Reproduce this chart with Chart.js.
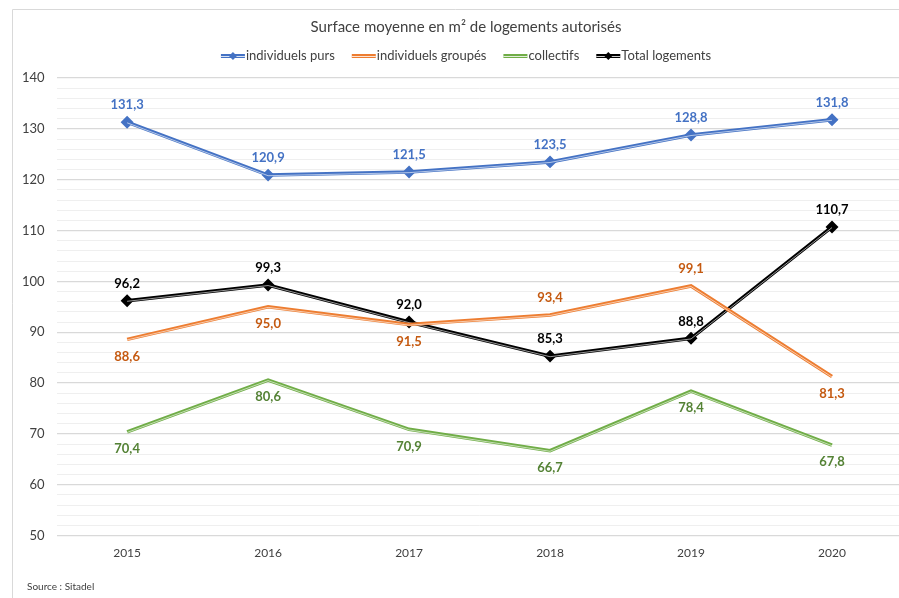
<!DOCTYPE html>
<html>
<head>
<meta charset="utf-8">
<script src="https://cdn.jsdelivr.net/npm/chart.js@4"></script>
<style>
  html, body { margin: 0; padding: 0; background: #fff; overflow: hidden; }
  #wrap { position: relative; width: 910px; height: 598px; }
</style>
</head>
<body>
<div id="wrap"><canvas id="surfaceChart"></canvas></div>
<script>
const years = ['2015', '2016', '2017', '2018', '2019', '2020'];
const individuelsPurs = [131.3, 120.9, 121.5, 123.5, 128.8, 131.8];
const individuelsGroupes = [88.6, 95.0, 91.5, 93.4, 99.1, 81.3];
const collectifs = [70.4, 80.6, 70.9, 66.7, 78.4, 67.8];
const totalLogements = [96.2, 99.3, 92.0, 85.3, 88.8, 110.7];

// label placement per point: 1 above, -1 below
const posPurs = [1, 1, 1, 1, 1, 1];
const posGroupes = [-1, -1, -1, 1, 1, -1];
const posCollectifs = [-1, -1, -1, -1, -1, -1];
const posTotal = [1, 1, 1, 1, 1, 1];

const FONT = 'Lato, "Noto Sans", sans-serif';
const TITLE = 'Surface moyenne en m² de logements autorisés';
const CENTER_X = 466; // title / legend centre in the visible 899px window
const VIEW_W = 899;

function series(label, data, color, labelColor, pos, marker) {
  return {
    label: label,
    data: data,
    borderColor: color,
    backgroundColor: color,
    borderWidth: 3.5,
    pointStyle: 'rectRot',
    pointRadius: marker ? 4 : 0,
    pointHoverRadius: marker ? 4 : 0,
    tension: 0,
    labelColor: labelColor,
    labelPos: pos,
    marker: marker
  };
}

// thin light stripe inside the thick line (Excel "double" line look)
const doubleLine = {
  id: 'doubleLine',
  afterDatasetDraw(chart, args) {
    const meta = args.meta;
    const ctx = chart.ctx;
    ctx.save();
    ctx.strokeStyle = 'rgba(255,255,255,0.75)';
    ctx.lineWidth = 0.8;
    ctx.beginPath();
    meta.data.forEach((p, i) => {
      if (i === 0) ctx.moveTo(p.x, p.y + 0.6);
      else ctx.lineTo(p.x, p.y + 0.6);
    });
    ctx.stroke();
    ctx.restore();
  }
};

const valueLabels = {
  id: 'valueLabels',
  afterDatasetsDraw(chart) {
    const ctx = chart.ctx;
    ctx.save();
    ctx.font = 'bold 13px ' + FONT;
    ctx.textAlign = 'center';
    ctx.textBaseline = 'middle';
    chart.data.datasets.forEach((ds, di) => {
      const meta = chart.getDatasetMeta(di);
      meta.data.forEach((p, i) => {
        const txt = ds.data[i].toFixed(1).replace('.', ',');
        ctx.fillStyle = ds.labelColor;
        ctx.fillText(txt, p.x, p.y - 17 * ds.labelPos[i]);
      });
    });
    ctx.restore();
  }
};

// frame, title, legend and source note
const decorations = {
  id: 'decorations',
  afterDraw(chart) {
    const ctx = chart.ctx;
    ctx.save();
    ctx.strokeStyle = '#d9d9d9';
    ctx.lineWidth = 1;
    ctx.beginPath();
    ctx.moveTo(12.5, chart.height);
    ctx.lineTo(12.5, 9.5);
    ctx.lineTo(VIEW_W, 9.5);
    ctx.stroke();

    ctx.fillStyle = '#404040';
    ctx.textBaseline = 'middle';
    ctx.textAlign = 'center';
    ctx.font = '15px ' + FONT;
    ctx.fillText(TITLE, CENTER_X, 27);

    // legend
    ctx.font = '13px ' + FONT;
    ctx.textAlign = 'left';
    const sw = 24, gap = 17, ly = 56;
    const dss = chart.data.datasets;
    const widths = dss.map(d => sw + 1 + ctx.measureText(d.label).width);
    const total = widths.reduce((a, b) => a + b, 0) + gap * (dss.length - 1);
    let x = CENTER_X - total / 2;
    dss.forEach((d, i) => {
      ctx.strokeStyle = d.borderColor;
      ctx.lineWidth = 4;
      ctx.beginPath(); ctx.moveTo(x, ly); ctx.lineTo(x + sw, ly); ctx.stroke();
      ctx.strokeStyle = 'rgba(255,255,255,0.8)';
      ctx.lineWidth = 1;
      ctx.beginPath(); ctx.moveTo(x, ly + 0.5); ctx.lineTo(x + sw, ly + 0.5); ctx.stroke();
      if (d.marker) {
        const cx = x + sw / 2;
        ctx.fillStyle = d.borderColor;
        ctx.beginPath();
        ctx.moveTo(cx, ly - 4); ctx.lineTo(cx + 4, ly); ctx.lineTo(cx, ly + 4); ctx.lineTo(cx - 4, ly);
        ctx.closePath(); ctx.fill();
      }
      ctx.fillStyle = '#404040';
      ctx.fillText(d.label, x + sw + 1, ly);
      x += widths[i] + gap;
    });

    ctx.font = '10px ' + FONT;
    ctx.fillText('Source : Sitadel', 27, 587);
    ctx.restore();
  }
};

const canvas = document.getElementById('surfaceChart');
new Chart(canvas.getContext('2d'), {
  type: 'line',
  data: {
    labels: years,
    datasets: [
      series('individuels purs', individuelsPurs, '#4472c4', '#4472c4', posPurs, true),
      series('individuels groupés', individuelsGroupes, '#ed7d31', '#c55a11', posGroupes, false),
      series('collectifs', collectifs, '#70ad47', '#548235', posCollectifs, false),
      series('Total logements', totalLogements, '#000000', '#000000', posTotal, true)
    ]
  },
  options: {
    responsive: true,
    maintainAspectRatio: false,
    animation: false,
    layout: { padding: { top: 78, left: 10, right: 0, bottom: 28 } },
    plugins: {
      title: { display: false },
      legend: { display: false },
      tooltip: { enabled: false }
    },
    scales: {
      x: {
        offset: true,
        grid: { display: false, drawTicks: false },
        border: { display: false },
        ticks: { color: '#404040', font: { family: FONT, size: 12 }, padding: 10 }
      },
      y: {
        min: 50,
        max: 140,
        border: { display: false },
        grid: {
          drawTicks: false,
          color: c => (c.tick && c.tick.value % 10 === 0) ? '#d9d9d9' : '#efefef',
          lineWidth: c => (c.tick && c.tick.value % 10 === 0) ? 1.2 : 1
        },
        ticks: {
          stepSize: 2,
          autoSkip: false,
          padding: 12,
          color: '#404040',
          font: { family: FONT, size: 13 },
          callback: v => (v % 10 === 0 ? v : '')
        }
      }
    }
  },
  plugins: [doubleLine, valueLabels, decorations]
});
</script>
</body>
</html>
